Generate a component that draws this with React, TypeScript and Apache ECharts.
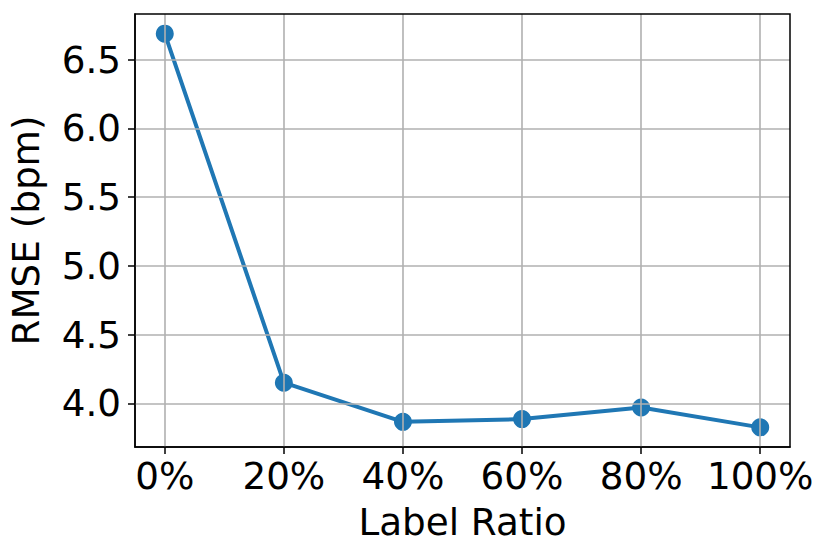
import React, { useEffect, useRef } from "react";
import * as echarts from "echarts";

const ratios = [0, 20, 40, 60, 80, 100];
const rmse = [6.69, 4.15, 3.865, 3.885, 3.97, 3.825];
const xTicks = [0, 20, 40, 60, 80, 100];
const yTicks = [4.0, 4.5, 5.0, 5.5, 6.0, 6.5];

const FONT = "DejaVu Sans";
const FS = 37.3;
const GRID_COLOR = "#b0b0b0";

export default function App() {
  const ref = useRef<HTMLDivElement>(null);
  useEffect(() => {
    if (!ref.current) return;
    const chart = echarts.init(ref.current, undefined, { renderer: "svg" });
    const gl = { color: GRID_COLOR, width: 1.6, type: "solid" as const };
    chart.setOption({
      animation: false,
      backgroundColor: "#ffffff",
      grid: {
        left: 135,
        top: 14,
        width: 655,
        height: 433,
        containLabel: false,
        outerBoundsMode: "none",
      },
      xAxis: {
        type: "value",
        min: -5,
        max: 105,
        name: "Label Ratio",
        nameLocation: "middle",
        nameGap: 56,
        nameTextStyle: { fontFamily: FONT, fontSize: FS, color: "#000" },
        axisLine: { show: true, onZero: false, lineStyle: { color: "#000", width: 1.5 } },
        axisTick: { show: true, length: 7, inside: false, customValues: xTicks, lineStyle: { color: "#000", width: 1.5 } },
        axisLabel: {
          customValues: xTicks,
          margin: 10,
          fontFamily: FONT,
          fontSize: FS,
          color: "#000",
          formatter: (v: number) => `${v}%`,
        },
        splitLine: { show: false },
      },
      yAxis: {
        type: "value",
        min: 3.682,
        max: 6.833,
        name: "RMSE (bpm)",
        nameLocation: "middle",
        nameRotate: 90,
        nameGap: 91,
        nameTextStyle: { fontFamily: FONT, fontSize: FS, color: "#000" },
        axisLine: { show: true, onZero: false, lineStyle: { color: "#000", width: 1.5 } },
        axisTick: { show: true, length: 7, inside: false, customValues: yTicks, lineStyle: { color: "#000", width: 1.5 } },
        axisLabel: {
          customValues: yTicks,
          margin: 14,
          fontFamily: FONT,
          fontSize: FS,
          color: "#000",
          formatter: (v: number) => v.toFixed(1),
        },
        splitLine: { show: false },
      },
      graphic: [
        {
          type: "rect",
          shape: { x: 135, y: 14, width: 655, height: 433 },
          style: { fill: "none", stroke: "#000", lineWidth: 1.5 },
          z: 100,
          silent: true,
        },
      ],
      series: [
        {
          type: "line",
          data: [],
          z: 1,
          silent: true,
          markLine: {
            silent: true,
            symbol: ["none", "none"],
            label: { show: false },
            lineStyle: gl,
            emphasis: { disabled: true },
            data: [
              ...xTicks.map((v) => ({ xAxis: v })),
              ...yTicks.map((v) => ({ yAxis: v })),
            ],
          },
        },
        {
          type: "line",
          z: 3,
          data: ratios.map((r, i) => [r, rmse[i]]),
          symbol: "circle",
          symbolSize: 18,
          itemStyle: { color: "#1f77b4" },
          lineStyle: { color: "#1f77b4", width: 4 },
        },
      ],
    });
    return () => chart.dispose();
  }, []);
  return <div ref={ref} style={{ width: 830, height: 559, marginLeft: -8, marginTop: -8 }} />;
}
